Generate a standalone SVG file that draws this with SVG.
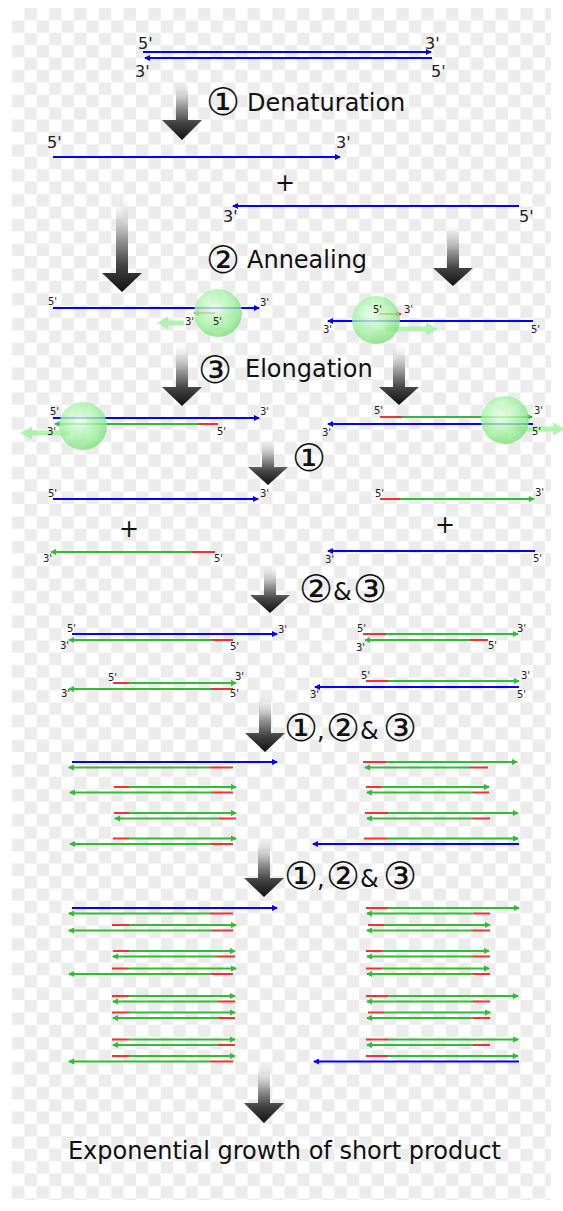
<svg xmlns="http://www.w3.org/2000/svg" width="563" height="1211" viewBox="0 0 563 1211">
<defs>
<style>
.b{stroke:#0000ff;stroke-width:2;fill:none}
.g{stroke:#33bb33;stroke-width:2;fill:none}
.r{stroke:#ee3333;stroke-width:2;fill:none}
.s{font-family:"DejaVu Sans",sans-serif;font-size:10px;fill:#222}
.m{font-family:"DejaVu Sans",sans-serif;font-size:16px;fill:#222}
.t{font-family:"DejaVu Sans",sans-serif;font-size:24px;fill:#111}
.c{font-size:38px}
.big{fill:url(#ag0)}
.sph{fill:url(#sg);opacity:0.8}
.fa{fill:#a4f2a4;opacity:0.85}
</style>
<pattern id="chk" patternUnits="userSpaceOnUse" x="12" y="8" width="24.8" height="24.8">
<rect width="24.8" height="24.8" fill="#ffffff"/>
<rect x="12.4" y="0" width="12.4" height="12.4" fill="#ececec"/>
<rect x="0" y="12.4" width="12.4" height="12.4" fill="#ececec"/>
</pattern>
<linearGradient id="ag0" x1="0" y1="0" x2="0" y2="1">
<stop offset="0" stop-color="#ffffff" stop-opacity="0.2"/>
<stop offset="0.45" stop-color="#999999"/>
<stop offset="0.72" stop-color="#444444"/>
<stop offset="1" stop-color="#111111"/>
</linearGradient>
<radialGradient id="sg" cx="0.42" cy="0.38" r="0.62">
<stop offset="0" stop-color="#e6ffe6"/>
<stop offset="0.6" stop-color="#a8f2a8"/>
<stop offset="1" stop-color="#7ee07e"/>
</radialGradient>
<marker id="mb" markerUnits="userSpaceOnUse" markerWidth="7" markerHeight="7" refX="5" refY="3.5" orient="auto"><path d="M0,0.5 L6,3.5 L0,6.5 z" fill="#0000ff"/></marker>
<marker id="mg" markerUnits="userSpaceOnUse" markerWidth="7" markerHeight="7" refX="5" refY="3.5" orient="auto"><path d="M0,0.5 L6,3.5 L0,6.5 z" fill="#33bb33"/></marker>
<marker id="mr" markerUnits="userSpaceOnUse" markerWidth="7" markerHeight="7" refX="5" refY="3.5" orient="auto"><path d="M0,0.5 L6,3.5 L0,6.5 z" fill="#ee3333"/></marker>
</defs>
<rect width="563" height="1211" fill="#ffffff"/>
<rect x="12" y="8" width="539" height="1192" fill="url(#chk)"/>

<g id="connectors">
<path class="big" d="M176,78 H188 V120 H202 L182,140 L162,120 H176 Z"/>
<path class="big" d="M116,195 H128 V273 H142 L122,292 L102,273 H116 Z"/>
<path class="big" d="M447,222 H459 V268 H473 L453,286 L433,268 H447 Z"/>
<path class="big" d="M176,342 H188 V387 H202 L182,406 L162,387 H176 Z"/>
<path class="big" d="M393,343 H405 V387 H419 L399,405 L379,387 H393 Z"/>
<path class="big" d="M262,437 H274 V467 H288 L268,485 L248,467 H262 Z"/>
<path class="big" d="M264,563 H276 V595 H290 L270,613 L250,595 H264 Z"/>
<path class="big" d="M259,693 H271 V733 H285 L265,752 L245,733 H259 Z"/>
<path class="big" d="M258,835 H270 V878 H284 L264,897 L244,878 H258 Z"/>
<path class="big" d="M258,1062 H270 V1103 H284 L264,1123 L244,1103 H258 Z"/>
</g>

<g id="labels-steps">
<text class="t"><tspan class="c" x="206" y="114.5">①</tspan> <tspan x="247" y="111">Denaturation</tspan></text>
<text class="t"><tspan class="c" x="206" y="273">②</tspan> <tspan x="247" y="268">Annealing</tspan></text>
<text class="t"><tspan class="c" x="198" y="383">③</tspan> <tspan x="245" y="377">Elongation</tspan></text>
<text class="t c" x="292" y="471">①</text>
<text class="t"><tspan class="c" x="299" y="602">②</tspan><tspan x="333" y="600">&amp;</tspan><tspan class="c" x="353" y="602">③</tspan></text>
<text class="t"><tspan class="c" x="284" y="741">①</tspan><tspan x="317" y="739">,</tspan><tspan class="c" x="326" y="741">②</tspan><tspan x="360" y="739">&amp;</tspan><tspan class="c" x="383" y="741">③</tspan></text>
<text class="t"><tspan class="c" x="284" y="889">①</tspan><tspan x="317" y="887">,</tspan><tspan class="c" x="326" y="889">②</tspan><tspan x="360" y="887">&amp;</tspan><tspan class="c" x="383" y="889">③</tspan></text>
<text class="t" x="284.5" y="1159" text-anchor="middle">Exponential growth of short product</text>
</g>

<g id="n-ds0">
<line class="b" x1="143" y1="52" x2="431" y2="52" marker-end="url(#mb)"/>
<line class="b" x1="432" y1="58" x2="145" y2="58" marker-end="url(#mb)"/>
<text class="m" x="138" y="49">5'</text><text class="m" x="425" y="49">3'</text>
<text class="m" x="135" y="77">3'</text><text class="m" x="431" y="77">5'</text>
</g>

<g id="n-ss-top">
<line class="b" x1="53" y1="157" x2="340" y2="157" marker-end="url(#mb)"/>
<text class="m" x="47" y="148">5'</text><text class="m" x="336" y="148">3'</text>
</g>
<text class="t" x="285" y="191" text-anchor="middle">+</text>
<g id="n-ss-bottom">
<line class="b" x1="519" y1="206" x2="233" y2="206" marker-end="url(#mb)"/>
<text class="m" x="223" y="222">3'</text><text class="m" x="519" y="222">5'</text>
</g>

<g id="n-anneal-left">
<line class="b" x1="53" y1="308" x2="259" y2="308" marker-end="url(#mb)"/>
<line class="r" x1="215" y1="313" x2="194" y2="313" marker-end="url(#mr)"/>
<path class="fa" d="M157,323 L168,316.5 L168,320.5 L184,320.5 L184,325.5 L168,325.5 L168,329.5 Z"/>
<circle class="sph" cx="218" cy="313" r="24"/>
<text class="s" x="48" y="305">5'</text><text class="s" x="260" y="306">3'</text>
<text class="s" x="185" y="325">3'</text><text class="s" x="213" y="325">5'</text>
</g>

<g id="n-anneal-right">
<line class="r" x1="379" y1="314" x2="401" y2="314" marker-end="url(#mr)"/>
<line class="b" x1="533" y1="321" x2="328" y2="321" marker-end="url(#mb)"/>
<path class="fa" d="M438,329 L426,322.5 L426,326.5 L385,326.5 L385,331.5 L426,331.5 L426,335.5 Z"/>
<circle class="sph" cx="376" cy="320" r="24"/>
<text class="s" x="373" y="313">5'</text><text class="s" x="404" y="313">3'</text>
<text class="s" x="323" y="333">3'</text><text class="s" x="531" y="333">5'</text>
</g>

<g id="n-elong-left">
<line class="b" x1="53" y1="418" x2="259" y2="418" marker-end="url(#mb)"/>
<line class="r" x1="218" y1="424" x2="198" y2="424"/>
<line class="g" x1="198" y1="424" x2="55" y2="424" marker-end="url(#mg)"/>
<path class="fa" d="M20,433 L32,426.5 L32,430.5 L70,430.5 L70,435.5 L32,435.5 L32,439.5 Z"/>
<circle class="sph" cx="83" cy="426" r="24"/>
<text class="s" x="50" y="415">5'</text><text class="s" x="260" y="415">3'</text>
<text class="s" x="47" y="435">3'</text><text class="s" x="217" y="435">5'</text>
</g>

<g id="n-elong-right">
<line class="r" x1="380" y1="417" x2="402" y2="417"/>
<line class="g" x1="402" y1="417" x2="532" y2="417" marker-end="url(#mg)"/>
<line class="b" x1="533" y1="424" x2="328" y2="424" marker-end="url(#mb)"/>
<path class="fa" d="M565,429 L553,422.5 L553,426.5 L515,426.5 L515,431.5 L553,431.5 L553,435.5 Z"/>
<circle class="sph" cx="505" cy="420" r="24"/>
<text class="s" x="374" y="414">5'</text><text class="s" x="534" y="414">3'</text>
<text class="s" x="322" y="436">3'</text><text class="s" x="532" y="435">5'</text>
</g>

<g id="n-c1-l1">
<line class="b" x1="53" y1="499" x2="258" y2="499" marker-end="url(#mb)"/>
<text class="s" x="48" y="497">5'</text><text class="s" x="260" y="497">3'</text>
</g>
<g id="n-c1-r1">
<line class="r" x1="380" y1="499" x2="400" y2="499"/>
<line class="g" x1="400" y1="499" x2="534" y2="499" marker-end="url(#mg)"/>
<text class="s" x="375" y="497">5'</text><text class="s" x="535" y="496">3'</text>
</g>
<text class="t" x="129" y="537" text-anchor="middle">+</text>
<text class="t" x="445" y="533" text-anchor="middle">+</text>
<g id="n-c1-l2">
<line class="r" x1="215" y1="552" x2="192" y2="552"/>
<line class="g" x1="192" y1="552" x2="51" y2="552" marker-end="url(#mg)"/>
<text class="s" x="43" y="562">3'</text><text class="s" x="214" y="562">5'</text>
</g>
<g id="n-c1-r2">
<line class="b" x1="535" y1="551" x2="328" y2="551" marker-end="url(#mb)"/>
<text class="s" x="325" y="563">3'</text><text class="s" x="533" y="562">5'</text>
</g>

<g id="n-c2-l1">
<line class="b" x1="72" y1="634" x2="277" y2="634" marker-end="url(#mb)"/>
<line class="r" x1="233" y1="640" x2="212" y2="640"/>
<line class="g" x1="212" y1="640" x2="69" y2="640" marker-end="url(#mg)"/>
<text class="s" x="67" y="632">5'</text><text class="s" x="278" y="633">3'</text>
<text class="s" x="60" y="649">3'</text><text class="s" x="230" y="650">5'</text>
</g>
<g id="n-c2-r1">
<line class="r" x1="363" y1="634" x2="386" y2="634"/>
<line class="g" x1="386" y1="634" x2="518" y2="634" marker-end="url(#mg)"/>
<line class="r" x1="488" y1="640" x2="470" y2="640"/>
<line class="g" x1="470" y1="640" x2="365" y2="640" marker-end="url(#mg)"/>
<text class="s" x="357" y="632">5'</text><text class="s" x="517" y="632">3'</text>
<text class="s" x="356" y="651">3'</text><text class="s" x="488" y="649">5'</text>
</g>
<g id="n-c2-l2">
<line class="r" x1="113" y1="683" x2="129" y2="683"/>
<line class="g" x1="129" y1="683" x2="236" y2="683" marker-end="url(#mg)"/>
<line class="r" x1="233" y1="689" x2="211" y2="689"/>
<line class="g" x1="211" y1="689" x2="69" y2="689" marker-end="url(#mg)"/>
<text class="s" x="108" y="681">5'</text><text class="s" x="235" y="680">3'</text>
<text class="s" x="61" y="697">3'</text><text class="s" x="230" y="697">5'</text>
</g>
<g id="n-c2-r2">
<line class="r" x1="366" y1="681" x2="388" y2="681"/>
<line class="g" x1="388" y1="681" x2="519" y2="681" marker-end="url(#mg)"/>
<line class="b" x1="519" y1="687" x2="315" y2="687" marker-end="url(#mb)"/>
<text class="s" x="361" y="679">5'</text><text class="s" x="521" y="679">3'</text>
<text class="s" x="310" y="698">3'</text><text class="s" x="517" y="698">5'</text>
</g>

<g id="n-c3-left">
<line class="b" x1="72" y1="762" x2="277" y2="762" marker-end="url(#mb)"/>
<line class="r" x1="233" y1="767.5" x2="210" y2="767.5"/>
<line class="g" x1="210" y1="767.5" x2="69" y2="767.5" marker-end="url(#mg)"/>
<line class="r" x1="114" y1="787" x2="129" y2="787"/>
<line class="g" x1="129" y1="787" x2="236" y2="787" marker-end="url(#mg)"/>
<line class="r" x1="233" y1="792.5" x2="212" y2="792.5"/>
<line class="g" x1="212" y1="792.5" x2="70" y2="792.5" marker-end="url(#mg)"/>
<line class="r" x1="114" y1="813" x2="129" y2="813"/>
<line class="g" x1="129" y1="813" x2="236" y2="813" marker-end="url(#mg)"/>
<line class="r" x1="236" y1="818.5" x2="219" y2="818.5"/>
<line class="g" x1="219" y1="818.5" x2="115" y2="818.5" marker-end="url(#mg)"/>
<line class="r" x1="113" y1="838.5" x2="129" y2="838.5"/>
<line class="g" x1="129" y1="838.5" x2="236" y2="838.5" marker-end="url(#mg)"/>
<line class="r" x1="233" y1="844" x2="211" y2="844"/>
<line class="g" x1="211" y1="844" x2="70" y2="844" marker-end="url(#mg)"/>
</g>
<g id="n-c3-right">
<line class="r" x1="363" y1="762" x2="386" y2="762"/>
<line class="g" x1="386" y1="762" x2="517" y2="762" marker-end="url(#mg)"/>
<line class="r" x1="488" y1="767.5" x2="470" y2="767.5"/>
<line class="g" x1="470" y1="767.5" x2="365" y2="767.5" marker-end="url(#mg)"/>
<line class="r" x1="366" y1="787" x2="382" y2="787"/>
<line class="g" x1="382" y1="787" x2="489" y2="787" marker-end="url(#mg)"/>
<line class="r" x1="489" y1="792.5" x2="473" y2="792.5"/>
<line class="g" x1="473" y1="792.5" x2="367" y2="792.5" marker-end="url(#mg)"/>
<line class="r" x1="365" y1="813" x2="388" y2="813"/>
<line class="g" x1="388" y1="813" x2="518" y2="813" marker-end="url(#mg)"/>
<line class="r" x1="490" y1="818.5" x2="473" y2="818.5"/>
<line class="g" x1="473" y1="818.5" x2="367" y2="818.5" marker-end="url(#mg)"/>
<line class="r" x1="364" y1="838.5" x2="387" y2="838.5"/>
<line class="g" x1="387" y1="838.5" x2="518" y2="838.5" marker-end="url(#mg)"/>
<line class="b" x1="519" y1="844" x2="313" y2="844" marker-end="url(#mb)"/>
</g>

<g id="n-c4-left">
<line class="b" x1="72" y1="908" x2="277" y2="908" marker-end="url(#mb)"/>
<line class="r" x1="233" y1="913.5" x2="210" y2="913.5"/>
<line class="g" x1="210" y1="913.5" x2="69" y2="913.5" marker-end="url(#mg)"/>
<line class="r" x1="112" y1="925" x2="129" y2="925"/>
<line class="g" x1="129" y1="925" x2="236" y2="925" marker-end="url(#mg)"/>
<line class="r" x1="233" y1="930.5" x2="211" y2="930.5"/>
<line class="g" x1="211" y1="930.5" x2="69" y2="930.5" marker-end="url(#mg)"/>
<line class="r" x1="113" y1="951" x2="129" y2="951"/>
<line class="g" x1="129" y1="951" x2="235" y2="951" marker-end="url(#mg)"/>
<line class="r" x1="235" y1="956.5" x2="217" y2="956.5"/>
<line class="g" x1="217" y1="956.5" x2="113" y2="956.5" marker-end="url(#mg)"/>
<line class="r" x1="112" y1="968.5" x2="129" y2="968.5"/>
<line class="g" x1="129" y1="968.5" x2="236" y2="968.5" marker-end="url(#mg)"/>
<line class="r" x1="233" y1="974" x2="211" y2="974"/>
<line class="g" x1="211" y1="974" x2="69" y2="974" marker-end="url(#mg)"/>
<line class="r" x1="112" y1="996" x2="129" y2="996"/>
<line class="g" x1="129" y1="996" x2="235" y2="996" marker-end="url(#mg)"/>
<line class="r" x1="235" y1="1001.5" x2="218" y2="1001.5"/>
<line class="g" x1="218" y1="1001.5" x2="113" y2="1001.5" marker-end="url(#mg)"/>
<line class="r" x1="112" y1="1012.5" x2="129" y2="1012.5"/>
<line class="g" x1="129" y1="1012.5" x2="235" y2="1012.5" marker-end="url(#mg)"/>
<line class="r" x1="235" y1="1018" x2="218" y2="1018"/>
<line class="g" x1="218" y1="1018" x2="113" y2="1018" marker-end="url(#mg)"/>
<line class="r" x1="112" y1="1039.5" x2="129" y2="1039.5"/>
<line class="g" x1="129" y1="1039.5" x2="235" y2="1039.5" marker-end="url(#mg)"/>
<line class="r" x1="235" y1="1045" x2="218" y2="1045"/>
<line class="g" x1="218" y1="1045" x2="113" y2="1045" marker-end="url(#mg)"/>
<line class="r" x1="112" y1="1056" x2="129" y2="1056"/>
<line class="g" x1="129" y1="1056" x2="235" y2="1056" marker-end="url(#mg)"/>
<line class="r" x1="233" y1="1061.5" x2="211" y2="1061.5"/>
<line class="g" x1="211" y1="1061.5" x2="69" y2="1061.5" marker-end="url(#mg)"/>
</g>
<g id="n-c4-right">
<line class="r" x1="366" y1="908" x2="388" y2="908"/>
<line class="g" x1="388" y1="908" x2="519" y2="908" marker-end="url(#mg)"/>
<line class="r" x1="490" y1="913.5" x2="474" y2="913.5"/>
<line class="g" x1="474" y1="913.5" x2="367" y2="913.5" marker-end="url(#mg)"/>
<line class="r" x1="368" y1="925" x2="384" y2="925"/>
<line class="g" x1="384" y1="925" x2="490" y2="925" marker-end="url(#mg)"/>
<line class="r" x1="490" y1="930.5" x2="473" y2="930.5"/>
<line class="g" x1="473" y1="930.5" x2="367" y2="930.5" marker-end="url(#mg)"/>
<line class="r" x1="366" y1="951" x2="382" y2="951"/>
<line class="g" x1="382" y1="951" x2="489" y2="951" marker-end="url(#mg)"/>
<line class="r" x1="490" y1="956.5" x2="473" y2="956.5"/>
<line class="g" x1="473" y1="956.5" x2="367" y2="956.5" marker-end="url(#mg)"/>
<line class="r" x1="366" y1="968.5" x2="382" y2="968.5"/>
<line class="g" x1="382" y1="968.5" x2="489" y2="968.5" marker-end="url(#mg)"/>
<line class="r" x1="490" y1="974" x2="473" y2="974"/>
<line class="g" x1="473" y1="974" x2="367" y2="974" marker-end="url(#mg)"/>
<line class="r" x1="366" y1="996" x2="388" y2="996"/>
<line class="g" x1="388" y1="996" x2="518" y2="996" marker-end="url(#mg)"/>
<line class="r" x1="490" y1="1001.5" x2="473" y2="1001.5"/>
<line class="g" x1="473" y1="1001.5" x2="367" y2="1001.5" marker-end="url(#mg)"/>
<line class="r" x1="368" y1="1012.5" x2="384" y2="1012.5"/>
<line class="g" x1="384" y1="1012.5" x2="490" y2="1012.5" marker-end="url(#mg)"/>
<line class="r" x1="490" y1="1018" x2="473" y2="1018"/>
<line class="g" x1="473" y1="1018" x2="367" y2="1018" marker-end="url(#mg)"/>
<line class="r" x1="366" y1="1039.5" x2="388" y2="1039.5"/>
<line class="g" x1="388" y1="1039.5" x2="518" y2="1039.5" marker-end="url(#mg)"/>
<line class="r" x1="490" y1="1045" x2="473" y2="1045"/>
<line class="g" x1="473" y1="1045" x2="367" y2="1045" marker-end="url(#mg)"/>
<line class="r" x1="366" y1="1056" x2="388" y2="1056"/>
<line class="g" x1="388" y1="1056" x2="518" y2="1056" marker-end="url(#mg)"/>
<line class="b" x1="519" y1="1061.5" x2="314" y2="1061.5" marker-end="url(#mb)"/>
</g>
</svg>
